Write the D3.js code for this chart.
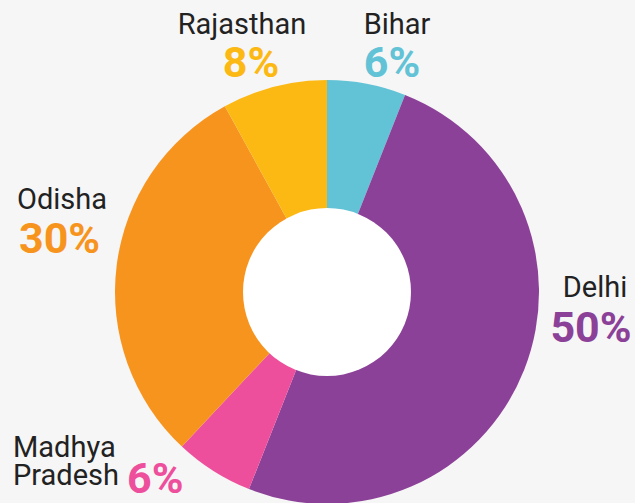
<!DOCTYPE html>
<html>
<head>
<meta charset="utf-8">
<script src="https://cdn.jsdelivr.net/npm/d3@7"></script>
<style>
  body { margin: 0; background: #f6f6f6; }
  svg { display: block; font-family: Roboto, sans-serif; }
</style>
</head>
<body>
<div class="donut"></div>
<script>
// data, clockwise from 12 o'clock
var states = ["Bihar", "Delhi", "Madhya Pradesh", "Odisha", "Rajasthan"];
var shares = [6, 50, 6, 30, 8];
var colors = ["#62c2d6", "#8c4198", "#ee4f9c", "#f7941e", "#fcb813"];

var width = 635, height = 503;
var cx = 327, cy = 292;
var outerR = 212, innerR = 84;

// where the name and the % go (x / baseline of the name, px / py for the %)
var labelPos = {
  "Bihar":          { x: 397, y: 34,  px: 392, py: 77,  anchor: "middle", panchor: "middle" },
  "Delhi":          { x: 595, y: 297, px: 591, py: 342, anchor: "middle", panchor: "middle" },
  "Madhya Pradesh": { x: 13,  y: 457, px: 127, py: 493, anchor: "start",  panchor: "start", lines: ["Madhya", "Pradesh"] },
  "Odisha":         { x: 17,  y: 209, px: 19,  py: 253, anchor: "start",  panchor: "start" },
  "Rajasthan":      { x: 242, y: 34,  px: 251, py: 77,  anchor: "middle", panchor: "middle" }
};

var svg = d3.select(".donut")
  .append("svg")
    .attr("width", width)
    .attr("height", height);

svg.append("rect")
    .attr("width", width)
    .attr("height", height)
    .attr("fill", "#f6f6f6");

var color = d3.scaleOrdinal().domain(states).range(colors);

var pie = d3.pie().sort(null).value(function(d) { return d.v; });
var arc = d3.arc().innerRadius(0).outerRadius(outerR);

var dat = states.map(function(s, i) { return { name: s, v: shares[i] }; });

var g = svg.append("g")
    .attr("transform", "translate(" + cx + "," + cy + ")");

g.selectAll(".slice")
  .data(pie(dat))
  .enter().append("path")
    .attr("class", "slice")
    .attr("d", arc)
    .attr("fill", function(d) { return color(d.data.name); });

// white hole
g.append("circle")
    .attr("r", innerR)
    .attr("fill", "#ffffff");

// labels
var labels = svg.append("g")
  .selectAll("g")
  .data(dat)
  .enter().append("g");

labels.each(function(d) {
  var p = labelPos[d.name];
  var sel = d3.select(this);
  var lines = p.lines || [d.name];
  var t = sel.append("text")
      .attr("x", p.x)
      .attr("y", p.y)
      .attr("text-anchor", p.anchor)
      .attr("font-size", 29)
      .attr("fill", "#222222");
  lines.forEach(function(l, i) {
    t.append("tspan")
      .attr("x", p.x)
      .attr("dy", i == 0 ? 0 : 28)
      .text(l);
  });
  sel.append("text")
      .attr("x", p.px)
      .attr("y", p.py)
      .attr("text-anchor", p.panchor)
      .attr("font-size", 43)
      .attr("font-weight", "bold")
      .attr("fill", color(d.name))
      .text(d.v + "%");
});
</script>
</body>
</html>
